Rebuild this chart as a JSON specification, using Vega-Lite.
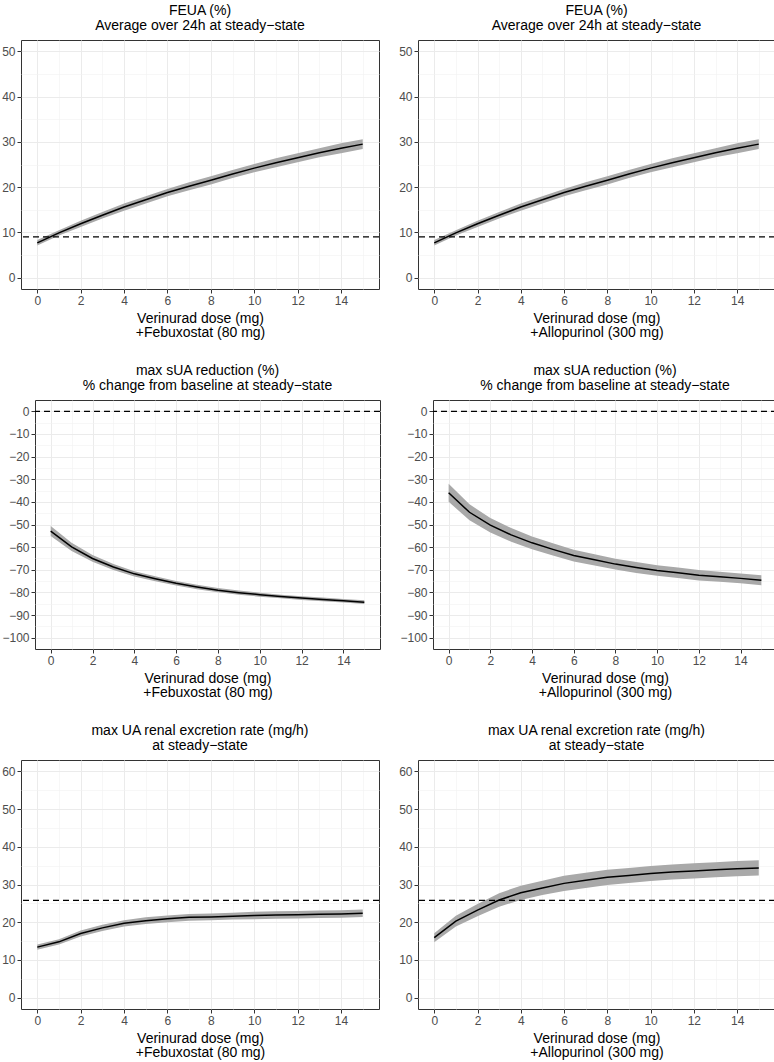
{
"$schema": "https://vega.github.io/schema/vega-lite/v6.json",
"padding": {"left": 0, "top": 3, "right": 0, "bottom": 0},
"background": "white",
"datasets": {
"p1": [
{"dose":0,"median":7.7,"lower":7.1,"upper":8.3},{"dose":1,"median":9.9,"lower":9.3,"upper":10.5},{"dose":2,"median":11.9,"lower":11.2,"upper":12.6},{"dose":3,"median":13.8,"lower":13.1,"upper":14.5},{"dose":4,"median":15.6,"lower":14.8,"upper":16.4},{"dose":5,"median":17.2,"lower":16.4,"upper":18.0},{"dose":6,"median":18.8,"lower":18.0,"upper":19.6},{"dose":7,"median":20.2,"lower":19.3,"upper":21.1},{"dose":8,"median":21.5,"lower":20.6,"upper":22.4},{"dose":9,"median":22.9,"lower":22.0,"upper":23.8},{"dose":10,"median":24.2,"lower":23.3,"upper":25.1},{"dose":11,"median":25.4,"lower":24.4,"upper":26.4},{"dose":12,"median":26.5,"lower":25.5,"upper":27.5},{"dose":13,"median":27.6,"lower":26.6,"upper":28.6},{"dose":14,"median":28.6,"lower":27.5,"upper":29.7},{"dose":15,"median":29.5,"lower":28.4,"upper":30.6}],
"p2": [
{"dose":0,"median":7.7,"lower":7.1,"upper":8.3},{"dose":1,"median":9.9,"lower":9.3,"upper":10.5},{"dose":2,"median":11.9,"lower":11.2,"upper":12.6},{"dose":3,"median":13.8,"lower":13.1,"upper":14.5},{"dose":4,"median":15.6,"lower":14.8,"upper":16.4},{"dose":5,"median":17.2,"lower":16.4,"upper":18.0},{"dose":6,"median":18.8,"lower":18.0,"upper":19.6},{"dose":7,"median":20.2,"lower":19.3,"upper":21.1},{"dose":8,"median":21.5,"lower":20.6,"upper":22.4},{"dose":9,"median":22.9,"lower":22.0,"upper":23.8},{"dose":10,"median":24.2,"lower":23.3,"upper":25.1},{"dose":11,"median":25.4,"lower":24.4,"upper":26.4},{"dose":12,"median":26.5,"lower":25.5,"upper":27.5},{"dose":13,"median":27.6,"lower":26.6,"upper":28.6},{"dose":14,"median":28.6,"lower":27.5,"upper":29.7},{"dose":15,"median":29.5,"lower":28.4,"upper":30.6}],
"p3": [
{"dose":0,"median":-52.9,"lower":-55.1,"upper":-50.7},{"dose":1,"median":-59.9,"lower":-61.7,"upper":-58.1},{"dose":2,"median":-65.0,"lower":-66.5,"upper":-63.5},{"dose":3,"median":-68.8,"lower":-70.1,"upper":-67.5},{"dose":4,"median":-71.8,"lower":-73.0,"upper":-70.6},{"dose":5,"median":-74.0,"lower":-75.1,"upper":-72.9},{"dose":6,"median":-76.0,"lower":-77.0,"upper":-75.0},{"dose":7,"median":-77.6,"lower":-78.6,"upper":-76.6},{"dose":8,"median":-79.0,"lower":-79.9,"upper":-78.1},{"dose":9,"median":-80.1,"lower":-81.0,"upper":-79.2},{"dose":10,"median":-81.0,"lower":-81.9,"upper":-80.1},{"dose":11,"median":-81.8,"lower":-82.6,"upper":-81.0},{"dose":12,"median":-82.5,"lower":-83.3,"upper":-81.7},{"dose":13,"median":-83.1,"lower":-83.9,"upper":-82.3},{"dose":14,"median":-83.7,"lower":-84.5,"upper":-82.9},{"dose":15,"median":-84.3,"lower":-85.1,"upper":-83.5}],
"p4": [
{"dose":0,"median":-36.0,"lower":-40.0,"upper":-32.0},{"dose":1,"median":-44.6,"lower":-48.1,"upper":-41.1},{"dose":2,"median":-50.3,"lower":-53.5,"upper":-47.1},{"dose":3,"median":-54.6,"lower":-57.6,"upper":-51.6},{"dose":4,"median":-58.1,"lower":-60.9,"upper":-55.3},{"dose":5,"median":-61.0,"lower":-63.7,"upper":-58.3},{"dose":6,"median":-63.7,"lower":-66.3,"upper":-61.1},{"dose":7,"median":-65.6,"lower":-68.1,"upper":-63.1},{"dose":8,"median":-67.5,"lower":-69.9,"upper":-65.1},{"dose":9,"median":-69.0,"lower":-71.4,"upper":-66.6},{"dose":10,"median":-70.3,"lower":-72.6,"upper":-68.0},{"dose":11,"median":-71.3,"lower":-73.6,"upper":-69.0},{"dose":12,"median":-72.4,"lower":-74.7,"upper":-70.1},{"dose":13,"median":-73.1,"lower":-75.3,"upper":-70.9},{"dose":14,"median":-73.8,"lower":-76.0,"upper":-71.6},{"dose":15,"median":-74.6,"lower":-76.8,"upper":-72.4}],
"p5": [
{"dose":0,"median":13.4,"lower":12.7,"upper":14.1},{"dose":1,"median":14.8,"lower":14.1,"upper":15.5},{"dose":2,"median":17.0,"lower":16.2,"upper":17.8},{"dose":3,"median":18.5,"lower":17.7,"upper":19.3},{"dose":4,"median":19.7,"lower":18.9,"upper":20.5},{"dose":5,"median":20.4,"lower":19.5,"upper":21.3},{"dose":6,"median":20.9,"lower":20.0,"upper":21.8},{"dose":7,"median":21.3,"lower":20.4,"upper":22.2},{"dose":8,"median":21.4,"lower":20.5,"upper":22.3},{"dose":9,"median":21.6,"lower":20.7,"upper":22.5},{"dose":10,"median":21.8,"lower":20.8,"upper":22.8},{"dose":11,"median":21.9,"lower":20.9,"upper":22.9},{"dose":12,"median":22.0,"lower":21.0,"upper":23.0},{"dose":13,"median":22.1,"lower":21.1,"upper":23.1},{"dose":14,"median":22.2,"lower":21.2,"upper":23.2},{"dose":15,"median":22.4,"lower":21.4,"upper":23.4}],
"p6": [
{"dose":0,"median":15.9,"lower":14.7,"upper":17.1},{"dose":1,"median":20.3,"lower":18.9,"upper":21.7},{"dose":2,"median":23.2,"lower":21.6,"upper":24.8},{"dose":3,"median":25.9,"lower":24.1,"upper":27.7},{"dose":4,"median":27.8,"lower":25.9,"upper":29.7},{"dose":5,"median":29.1,"lower":27.2,"upper":31.0},{"dose":6,"median":30.3,"lower":28.3,"upper":32.3},{"dose":7,"median":31.1,"lower":29.1,"upper":33.1},{"dose":8,"median":31.9,"lower":29.9,"upper":33.9},{"dose":9,"median":32.4,"lower":30.4,"upper":34.4},{"dose":10,"median":32.9,"lower":30.9,"upper":34.9},{"dose":11,"median":33.3,"lower":31.3,"upper":35.3},{"dose":12,"median":33.6,"lower":31.6,"upper":35.6},{"dose":13,"median":33.9,"lower":31.9,"upper":35.9},{"dose":14,"median":34.2,"lower":32.2,"upper":36.2},{"dose":15,"median":34.4,"lower":32.4,"upper":36.4}]
},
"spacing": 23,
"vconcat": [
{"hconcat": [
 {"hconcat": [
  {"width": 1, "height": 1, "data": {"values": []}, "mark": "point", "view": {"stroke": null}},
  {"width": 358, "height": 249, "title": {"text": ["FEUA (%)", "Average over 24h at steady−state"]}, "data": {"name": "p1"},
   "layer": [
    {"mark": {"type": "area", "color": "#A9A9A9", "opacity": 1},
     "encoding": {"x": {"field": "dose", "type": "quantitative", "scale": {"domain": [-0.75, 15.75], "nice": false, "zero": false}, "axis": {"orient": "bottom", "values": [1,3,5,7,9,11,13,15], "grid": true, "gridColor": "#F2F2F2", "gridWidth": 0.6, "labels": false, "ticks": false, "domain": false, "title": null}},
      "y": {"field": "lower", "type": "quantitative", "scale": {"domain": [-2.5, 52.5], "nice": false, "zero": false}, "axis": {"orient": "left", "values": [5,15,25,35,45], "grid": true, "gridColor": "#F2F2F2", "gridWidth": 0.6, "labels": false, "ticks": false, "domain": false, "title": null}},
      "y2": {"field": "upper"}}},
    {"mark": {"type": "line", "color": "black", "strokeWidth": 1.5},
     "encoding": {"x": {"field": "dose", "type": "quantitative", "axis": {"orient": "bottom", "values": [0,2,4,6,8,10,12,14], "grid": true, "title": ["Verinurad dose (mg)", "+Febuxostat (80 mg)"]}},
      "y": {"field": "median", "type": "quantitative", "axis": {"orient": "left", "values": [0,10,20,30,40,50], "grid": true, "title": null}}}},
    {"data": {"values": [{"ref": 9}]}, "mark": {"type": "rule", "color": "black", "strokeWidth": 1.3, "strokeDash": [6, 4]},
     "encoding": {"y": {"field": "ref", "type": "quantitative", "axis": null}}}
   ],
   "resolve": {"axis": {"x": "independent", "y": "independent"}}}
 ], "spacing": 0},
 {"width": 357, "height": 249, "title": {"text": ["FEUA (%)", "Average over 24h at steady−state"]}, "data": {"name": "p2"},
  "layer": [
   {"mark": {"type": "area", "color": "#A9A9A9", "opacity": 1},
    "encoding": {"x": {"field": "dose", "type": "quantitative", "scale": {"domain": [-0.75, 15.75], "nice": false, "zero": false}, "axis": {"orient": "bottom", "values": [1,3,5,7,9,11,13,15], "grid": true, "gridColor": "#F2F2F2", "gridWidth": 0.6, "labels": false, "ticks": false, "domain": false, "title": null}},
     "y": {"field": "lower", "type": "quantitative", "scale": {"domain": [-2.5, 52.5], "nice": false, "zero": false}, "axis": {"orient": "left", "values": [5,15,25,35,45], "grid": true, "gridColor": "#F2F2F2", "gridWidth": 0.6, "labels": false, "ticks": false, "domain": false, "title": null}},
     "y2": {"field": "upper"}}},
   {"mark": {"type": "line", "color": "black", "strokeWidth": 1.5},
    "encoding": {"x": {"field": "dose", "type": "quantitative", "axis": {"orient": "bottom", "values": [0,2,4,6,8,10,12,14], "grid": true, "title": ["Verinurad dose (mg)", "+Allopurinol (300 mg)"]}},
     "y": {"field": "median", "type": "quantitative", "axis": {"orient": "left", "values": [0,10,20,30,40,50], "grid": true, "title": null}}}},
   {"data": {"values": [{"ref": 9}]}, "mark": {"type": "rule", "color": "black", "strokeWidth": 1.3, "strokeDash": [6, 4]},
    "encoding": {"y": {"field": "ref", "type": "quantitative", "axis": null}}}
  ],
  "resolve": {"axis": {"x": "independent", "y": "independent"}}}
], "spacing": 17},
{"hconcat": [
 {"hconcat": [
  {"width": 1, "height": 1, "data": {"values": []}, "mark": "point", "view": {"stroke": null}},
  {"width": 345, "height": 249, "title": {"text": ["max sUA reduction (%)", "% change from baseline at steady−state"]}, "data": {"name": "p3"},
   "layer": [
    {"mark": {"type": "area", "color": "#A9A9A9", "opacity": 1},
     "encoding": {"x": {"field": "dose", "type": "quantitative", "scale": {"domain": [-0.75, 15.75], "nice": false, "zero": false}, "axis": {"orient": "bottom", "values": [1,3,5,7,9,11,13,15], "grid": true, "gridColor": "#F2F2F2", "gridWidth": 0.6, "labels": false, "ticks": false, "domain": false, "title": null}},
      "y": {"field": "lower", "type": "quantitative", "scale": {"domain": [-105, 5], "nice": false, "zero": false}, "axis": {"orient": "left", "values": [-95,-85,-75,-65,-55,-45,-35,-25,-15,-5], "grid": true, "gridColor": "#F2F2F2", "gridWidth": 0.6, "labels": false, "ticks": false, "domain": false, "title": null}},
      "y2": {"field": "upper"}}},
    {"mark": {"type": "line", "color": "black", "strokeWidth": 1.5},
     "encoding": {"x": {"field": "dose", "type": "quantitative", "axis": {"orient": "bottom", "values": [0,2,4,6,8,10,12,14], "grid": true, "title": ["Verinurad dose (mg)", "+Febuxostat (80 mg)"]}},
      "y": {"field": "median", "type": "quantitative", "axis": {"orient": "left", "values": [-100,-90,-80,-70,-60,-50,-40,-30,-20,-10,0], "grid": true, "title": null}}}},
    {"data": {"values": [{"ref": 0}]}, "mark": {"type": "rule", "color": "black", "strokeWidth": 1.3, "strokeDash": [6, 4]},
     "encoding": {"y": {"field": "ref", "type": "quantitative", "axis": null}}}
   ],
   "resolve": {"axis": {"x": "independent", "y": "independent"}}}
 ], "spacing": 0},
 {"width": 344, "height": 249, "title": {"text": ["max sUA reduction (%)", "% change from baseline at steady−state"]}, "data": {"name": "p4"},
  "layer": [
   {"mark": {"type": "area", "color": "#A9A9A9", "opacity": 1},
    "encoding": {"x": {"field": "dose", "type": "quantitative", "scale": {"domain": [-0.75, 15.75], "nice": false, "zero": false}, "axis": {"orient": "bottom", "values": [1,3,5,7,9,11,13,15], "grid": true, "gridColor": "#F2F2F2", "gridWidth": 0.6, "labels": false, "ticks": false, "domain": false, "title": null}},
     "y": {"field": "lower", "type": "quantitative", "scale": {"domain": [-105, 5], "nice": false, "zero": false}, "axis": {"orient": "left", "values": [-95,-85,-75,-65,-55,-45,-35,-25,-15,-5], "grid": true, "gridColor": "#F2F2F2", "gridWidth": 0.6, "labels": false, "ticks": false, "domain": false, "title": null}},
     "y2": {"field": "upper"}}},
   {"mark": {"type": "line", "color": "black", "strokeWidth": 1.5},
    "encoding": {"x": {"field": "dose", "type": "quantitative", "axis": {"orient": "bottom", "values": [0,2,4,6,8,10,12,14], "grid": true, "title": ["Verinurad dose (mg)", "+Allopurinol (300 mg)"]}},
     "y": {"field": "median", "type": "quantitative", "axis": {"orient": "left", "values": [-100,-90,-80,-70,-60,-50,-40,-30,-20,-10,0], "grid": true, "title": null}}}},
   {"data": {"values": [{"ref": 0}]}, "mark": {"type": "rule", "color": "black", "strokeWidth": 1.3, "strokeDash": [6, 4]},
    "encoding": {"y": {"field": "ref", "type": "quantitative", "axis": null}}}
  ],
  "resolve": {"axis": {"x": "independent", "y": "independent"}}}
], "spacing": 17},
{"hconcat": [
 {"hconcat": [
  {"width": 1, "height": 1, "data": {"values": []}, "mark": "point", "view": {"stroke": null}},
  {"width": 358, "height": 249, "title": {"text": ["max UA renal excretion rate (mg/h)", "at steady−state"]}, "data": {"name": "p5"},
   "layer": [
    {"mark": {"type": "area", "color": "#A9A9A9", "opacity": 1},
     "encoding": {"x": {"field": "dose", "type": "quantitative", "scale": {"domain": [-0.75, 15.75], "nice": false, "zero": false}, "axis": {"orient": "bottom", "values": [1,3,5,7,9,11,13,15], "grid": true, "gridColor": "#F2F2F2", "gridWidth": 0.6, "labels": false, "ticks": false, "domain": false, "title": null}},
      "y": {"field": "lower", "type": "quantitative", "scale": {"domain": [-3, 63], "nice": false, "zero": false}, "axis": {"orient": "left", "values": [5,15,25,35,45,55], "grid": true, "gridColor": "#F2F2F2", "gridWidth": 0.6, "labels": false, "ticks": false, "domain": false, "title": null}},
      "y2": {"field": "upper"}}},
    {"mark": {"type": "line", "color": "black", "strokeWidth": 1.5},
     "encoding": {"x": {"field": "dose", "type": "quantitative", "axis": {"orient": "bottom", "values": [0,2,4,6,8,10,12,14], "grid": true, "title": ["Verinurad dose (mg)", "+Febuxostat (80 mg)"]}},
      "y": {"field": "median", "type": "quantitative", "axis": {"orient": "left", "values": [0,10,20,30,40,50,60], "grid": true, "title": null}}}},
    {"data": {"values": [{"ref": 25.8}]}, "mark": {"type": "rule", "color": "black", "strokeWidth": 1.3, "strokeDash": [6, 4]},
     "encoding": {"y": {"field": "ref", "type": "quantitative", "axis": null}}}
   ],
   "resolve": {"axis": {"x": "independent", "y": "independent"}}}
 ], "spacing": 0},
 {"width": 357, "height": 249, "title": {"text": ["max UA renal excretion rate (mg/h)", "at steady−state"]}, "data": {"name": "p6"},
  "layer": [
   {"mark": {"type": "area", "color": "#A9A9A9", "opacity": 1},
    "encoding": {"x": {"field": "dose", "type": "quantitative", "scale": {"domain": [-0.75, 15.75], "nice": false, "zero": false}, "axis": {"orient": "bottom", "values": [1,3,5,7,9,11,13,15], "grid": true, "gridColor": "#F2F2F2", "gridWidth": 0.6, "labels": false, "ticks": false, "domain": false, "title": null}},
     "y": {"field": "lower", "type": "quantitative", "scale": {"domain": [-3, 63], "nice": false, "zero": false}, "axis": {"orient": "left", "values": [5,15,25,35,45,55], "grid": true, "gridColor": "#F2F2F2", "gridWidth": 0.6, "labels": false, "ticks": false, "domain": false, "title": null}},
     "y2": {"field": "upper"}}},
   {"mark": {"type": "line", "color": "black", "strokeWidth": 1.5},
    "encoding": {"x": {"field": "dose", "type": "quantitative", "axis": {"orient": "bottom", "values": [0,2,4,6,8,10,12,14], "grid": true, "title": ["Verinurad dose (mg)", "+Allopurinol (300 mg)"]}},
     "y": {"field": "median", "type": "quantitative", "axis": {"orient": "left", "values": [0,10,20,30,40,50,60], "grid": true, "title": null}}}},
   {"data": {"values": [{"ref": 25.8}]}, "mark": {"type": "rule", "color": "black", "strokeWidth": 1.3, "strokeDash": [6, 4]},
    "encoding": {"y": {"field": "ref", "type": "quantitative", "axis": null}}}
  ],
  "resolve": {"axis": {"x": "independent", "y": "independent"}}}
], "spacing": 17}
],
"config": {
 "font": "Liberation Sans",
 "view": {"stroke": "#333333", "strokeWidth": 1},
 "axis": {"labelFont": "Liberation Sans", "labelFontSize": 12, "labelColor": "#4D4D4D", "tickColor": "#333333", "tickSize": 4, "tickWidth": 1, "labelPadding": 2, "domain": false, "gridColor": "#EBEBEB", "gridWidth": 1, "titleFont": "Liberation Sans", "titleFontSize": 14, "titleFontWeight": "normal", "titleColor": "black", "titleLineHeight": 14.5, "titlePadding": 5, "labelOverlap": false, "labelFlush": false, "minExtent": 0},
 "title": {"font": "Liberation Sans", "fontSize": 14, "fontWeight": "normal", "color": "black", "lineHeight": 15, "offset": 7, "anchor": "middle"}
}
}
